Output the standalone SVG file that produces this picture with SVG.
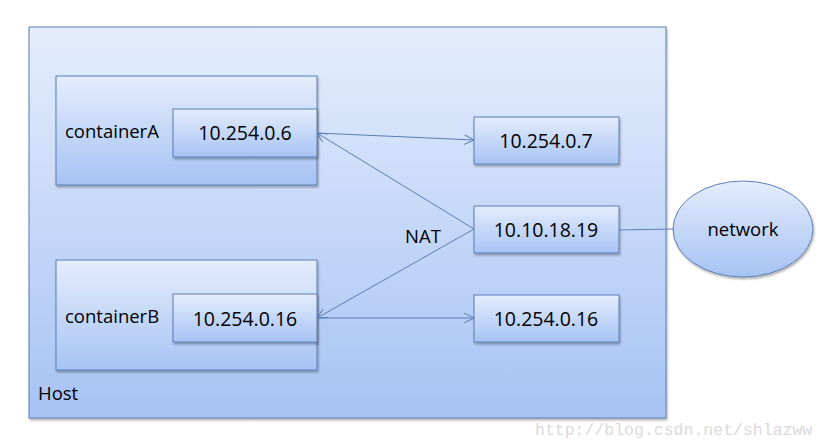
<svg xmlns="http://www.w3.org/2000/svg" width="828" height="443" viewBox="0 0 828 443">
<defs>
<linearGradient id="g" x1="0" y1="0" x2="0" y2="1">
<stop offset="0" stop-color="#e4edfc"/>
<stop offset="1" stop-color="#a7c3f4"/>
</linearGradient>
<filter id="sh" x="-5%" y="-5%" width="112%" height="120%">
<feDropShadow dx="1" dy="2" stdDeviation="1.2" flood-color="#000" flood-opacity="0.3"/>
</filter>
<marker id="arr" viewBox="0 0 10 10" refX="10" refY="5" markerWidth="10" markerHeight="10" markerUnits="userSpaceOnUse" orient="auto">
<path d="M0,0 L10,5 L0,10" fill="none" stroke="#5b7fb3" stroke-width="1"/>
</marker>
</defs>
<style>
.box{fill:url(#g);stroke:#5b7fb3;stroke-width:1;filter:url(#sh)}
.t{font-family:"Open Sans","Liberation Sans",sans-serif;fill:#000}
.ip{font-size:19.5px;text-anchor:middle}
.lb{font-size:18.5px}
.ln{stroke:#5b7fb3;stroke-width:1;fill:none}
</style>
<rect width="828" height="443" fill="#fff"/>
<g id="host">
<rect class="box" x="29" y="27" width="637" height="391"/>
<text class="t lb" x="38" y="400">Host</text>
</g>
<g id="containerA">
<rect class="box" x="56" y="76" width="261" height="109"/>
<text class="t lb" x="65" y="138">containerA</text>
</g>
<g id="ipA">
<rect class="box" x="173" y="109" width="144" height="48"/>
<text class="t ip" x="245" y="140">10.254.0.6</text>
</g>
<g id="containerB">
<rect class="box" x="56" y="260" width="261" height="110"/>
<text class="t lb" x="65" y="323">containerB</text>
</g>
<g id="ipB">
<rect class="box" x="173" y="294" width="144" height="48"/>
<text class="t ip" x="245" y="326">10.254.0.16</text>
</g>
<g id="ip7">
<rect class="box" x="474" y="117" width="145" height="47"/>
<text class="t ip" x="546" y="148">10.254.0.7</text>
</g>
<g id="ipHost">
<rect class="box" x="474" y="206" width="145" height="47"/>
<text class="t ip" x="546" y="237">10.10.18.19</text>
</g>
<g id="ip16">
<rect class="box" x="474" y="295" width="145" height="47"/>
<text class="t ip" x="546" y="326">10.254.0.16</text>
</g>
<g id="network">
<ellipse class="box" cx="743" cy="229" rx="70" ry="48"/>
<text class="t lb" x="743" y="236" text-anchor="middle">network</text>
</g>
<g id="connectors">
<line class="ln" x1="317" y1="133" x2="474" y2="140" marker-end="url(#arr)"/>
<line class="ln" x1="474" y1="229" x2="317" y2="133" marker-end="url(#arr)"/>
<line class="ln" x1="474" y1="229" x2="317" y2="318" marker-end="url(#arr)"/>
<line class="ln" x1="317" y1="318" x2="474" y2="318" marker-end="url(#arr)"/>
<line class="ln" x1="619" y1="230" x2="673" y2="229"/>
<text class="t" x="405" y="243" font-size="18.5">NAT</text>
</g>
<text x="535" y="435" font-family="Liberation Mono,monospace" font-size="16.5" fill="#dadada">http://blog.csdn.net/shlazww</text>
</svg>
